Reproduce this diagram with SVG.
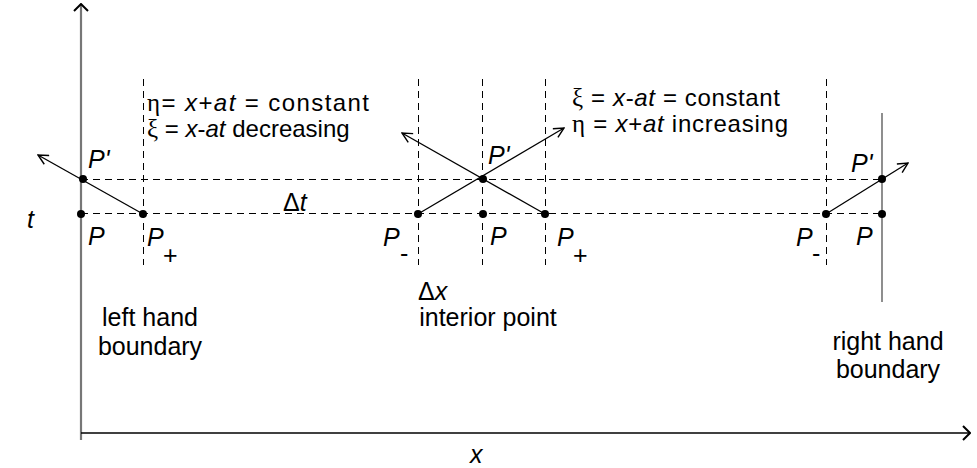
<svg xmlns="http://www.w3.org/2000/svg" width="977" height="468" viewBox="0 0 977 468">
<defs>
<marker id="arr" viewBox="0 0 12 12" refX="11" refY="6" markerWidth="12" markerHeight="12" markerUnits="userSpaceOnUse" orient="auto">
<path d="M1,1 L11,6 L1,11" fill="none" stroke="#000" stroke-width="1.4"/>
</marker>
<marker id="axarr" viewBox="0 0 16 16" refX="15" refY="8" markerWidth="16" markerHeight="16" markerUnits="userSpaceOnUse" orient="auto">
<path d="M8,1 L15,8 L8,15" fill="none" stroke="#000" stroke-width="2"/>
</marker>
</defs>
<style>
text{font-family:"Liberation Sans",Arial,sans-serif;font-size:25px;fill:#000}
.i{font-style:italic}
.eq{font-size:24px}
.g{font-family:"Liberation Serif","DejaVu Serif",serif;font-size:25px}
.dash{stroke:#000;stroke-width:1;stroke-dasharray:7,5;fill:none}
.dot{fill:#000}
.ch{stroke:#000;stroke-width:1.3;fill:none;marker-end:url(#arr)}
</style>
<rect width="977" height="468" fill="#fff"/>
<g id="axes">
<line x1="81" y1="440" x2="81" y2="4" stroke="#777" stroke-width="2.2" marker-end="url(#axarr)"/>
<line x1="81" y1="433" x2="970" y2="433" stroke="#000" stroke-width="1.5" marker-end="url(#axarr)"/>
<line x1="882" y1="113" x2="882" y2="302" stroke="#444" stroke-width="1.2"/>
</g>
<g id="grid">
<line class="dash" x1="81" y1="179.5" x2="882" y2="179.5"/>
<line class="dash" x1="81" y1="213.5" x2="882" y2="213.5"/>
<line class="dash" x1="143.5" y1="79" x2="143.5" y2="265"/>
<line class="dash" x1="418.5" y1="79" x2="418.5" y2="265"/>
<line class="dash" x1="482.5" y1="79" x2="482.5" y2="265"/>
<line class="dash" x1="545.5" y1="79" x2="545.5" y2="265"/>
<line class="dash" x1="826.5" y1="79" x2="826.5" y2="265"/>
</g>
<g id="connectors">
<path class="ch" d="M143,214 L38,155"/>
<path class="ch" d="M545,214 L402,133"/>
<path class="ch" d="M418,214 L564,128"/>
<path class="ch" d="M826,214 L908,163"/>
</g>
<g id="nodes">
<g id="left-boundary">
<circle class="dot" cx="83" cy="179" r="4"/>
<circle class="dot" cx="81" cy="214" r="4"/>
<circle class="dot" cx="143" cy="214" r="4"/>
<text class="i" x="88" y="168">P'</text>
<text class="i" x="88" y="245">P</text>
<text class="i" x="147" y="246">P</text>
<text x="163" y="264">+</text>
<text x="150" y="326" text-anchor="middle">left hand</text>
<text x="150" y="355" text-anchor="middle">boundary</text>
</g>
<g id="interior">
<circle class="dot" cx="483" cy="179" r="4"/>
<circle class="dot" cx="418" cy="214" r="4"/>
<circle class="dot" cx="483" cy="214" r="4"/>
<circle class="dot" cx="545" cy="214" r="4"/>
<text class="i" x="488" y="164">P'</text>
<text class="i" x="383" y="246">P</text>
<text x="400" y="262">-</text>
<text class="i" x="490" y="245">P</text>
<text class="i" x="557" y="246">P</text>
<text x="573" y="264">+</text>
<text x="418" y="300">Δ<tspan class="i">x</tspan></text>
<text x="488" y="326" text-anchor="middle">interior point</text>
</g>
<g id="right-boundary">
<circle class="dot" cx="882" cy="179" r="4"/>
<circle class="dot" cx="826" cy="214" r="4"/>
<circle class="dot" cx="882" cy="214" r="4"/>
<text class="i" x="851" y="172">P'</text>
<text class="i" x="796" y="246">P</text>
<text x="812" y="262">-</text>
<text class="i" x="856" y="245">P</text>
<text x="888" y="350" text-anchor="middle">right hand</text>
<text x="888" y="378" text-anchor="middle">boundary</text>
</g>
<g id="labels">
<text class="i" x="27" y="228">t</text>
<text class="i" x="470" y="463">x</text>
<text x="283" y="211">Δ<tspan class="i">t</tspan></text>
<text class="eq" x="147" y="111" textLength="222"><tspan class="g">η</tspan>= <tspan class="i">x</tspan>+<tspan class="i">at</tspan> = constant</text>
<text class="eq" x="147" y="137"><tspan class="g">ξ</tspan> = <tspan class="i">x</tspan>-<tspan class="i">at</tspan> decreasing</text>
<text class="eq" x="572" y="106" textLength="208"><tspan class="g">ξ</tspan> = <tspan class="i">x</tspan>-<tspan class="i">at</tspan> = constant</text>
<text class="eq" x="572" y="132" textLength="216"><tspan class="g">η</tspan> = <tspan class="i">x</tspan>+<tspan class="i">at</tspan> increasing</text>
</g>
</g>
</svg>
